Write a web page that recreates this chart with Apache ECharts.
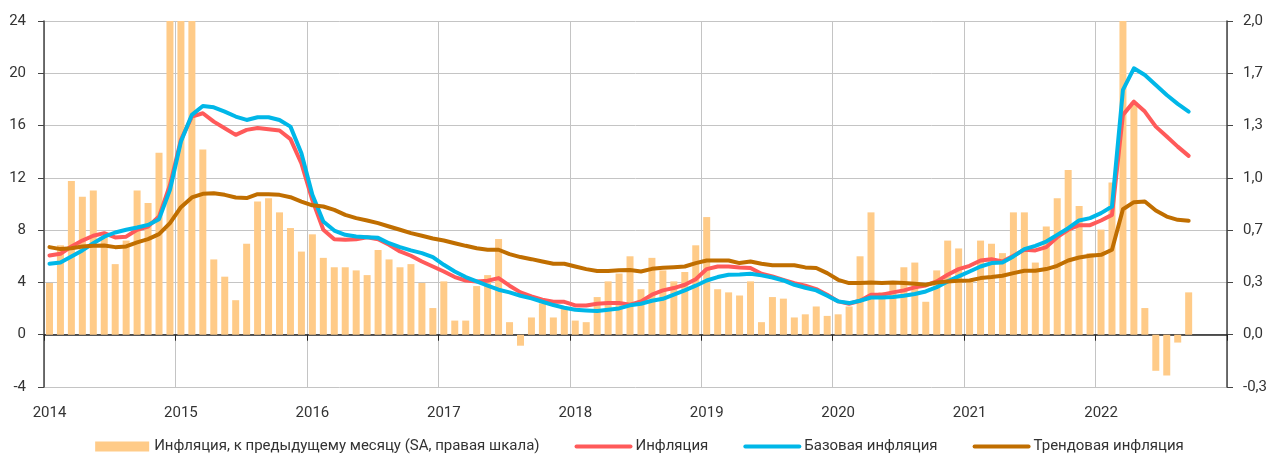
<!DOCTYPE html>
<html>
<head>
<meta charset="utf-8">
<script src="https://cdn.jsdelivr.net/npm/echarts@6/dist/echarts.min.js"></script>
<style>
    html, body { margin: 0; padding: 0; background: #fff; }
    #chart { width: 1279px; height: 456px; }
</style>
</head>
<body>
<div id="chart"></div>
<script>
// годовые подписи оси X (по январю каждого года)
var years = ['2014', '2015', '2016', '2017', '2018', '2019', '2020', '2021', '2022'];

// инфляция к предыдущему месяцу, SA, % (правая шкала), янв.2014 - сен.2022
var momSA = [
    0.33, 0.57, 0.98, 0.88, 0.92, 0.62, 0.45, 0.60, 0.92, 0.84, 1.16, 2.60,
    3.20, 2.20, 1.18, 0.48, 0.37, 0.22, 0.58, 0.85, 0.87, 0.78, 0.68, 0.53,
    0.64, 0.49, 0.43, 0.43, 0.41, 0.38, 0.54, 0.48, 0.43, 0.45, 0.33, 0.17,
    0.34, 0.09, 0.09, 0.31, 0.38, 0.61, 0.08, -0.07, 0.11, 0.20, 0.11, 0.17,
    0.09, 0.08, 0.24, 0.34, 0.39, 0.50, 0.29, 0.49, 0.41, 0.34, 0.40, 0.57,
    0.75, 0.29, 0.27, 0.25, 0.34, 0.08, 0.24, 0.23, 0.11, 0.13, 0.18, 0.12,
    0.13, 0.18, 0.50, 0.78, 0.27, 0.34, 0.43, 0.46, 0.21, 0.41, 0.60, 0.55,
    0.34, 0.60, 0.58, 0.52, 0.78, 0.78, 0.46, 0.69, 0.87, 1.05, 0.82, 0.52,
    0.67, 0.97, 7.30, 1.48, 0.17, -0.23, -0.26, -0.05, 0.27
];

// инфляция, % г/г
var inflation = [
    6.06, 6.19, 6.75, 7.20, 7.57, 7.77, 7.44, 7.50, 8.03, 8.28, 9.04, 11.46,
    14.90, 16.69, 16.94, 16.30, 15.80, 15.29, 15.67, 15.82, 15.72, 15.62, 14.96, 13.10,
    10.30, 8.03, 7.31, 7.26, 7.31, 7.46, 7.31, 6.88, 6.37, 6.04, 5.60, 5.22,
    4.84, 4.41, 4.15, 4.08, 4.13, 4.33, 3.75, 3.24, 2.93, 2.68, 2.52, 2.52,
    2.24, 2.24, 2.37, 2.42, 2.42, 2.30, 2.55, 3.06, 3.39, 3.57, 3.82, 4.25,
    5.02, 5.22, 5.22, 5.15, 5.10, 4.66, 4.46, 4.20, 3.95, 3.75, 3.49, 3.06,
    2.55, 2.37, 2.60, 3.06, 3.06, 3.24, 3.39, 3.62, 3.77, 4.08, 4.59, 5.02,
    5.27, 5.68, 5.78, 5.60, 6.04, 6.50, 6.45, 6.70, 7.46, 8.03, 8.38, 8.38,
    8.74, 9.17, 16.82, 17.83, 17.07, 15.92, 15.16, 14.39, 13.68
];

// базовая инфляция, % г/г
var coreInflation = [
    5.43, 5.53, 5.99, 6.45, 7.00, 7.50, 7.82, 8.03, 8.20, 8.40, 8.84, 11.08,
    14.78, 16.82, 17.50, 17.40, 17.07, 16.69, 16.43, 16.64, 16.64, 16.43, 15.92, 13.89,
    10.70, 8.66, 7.97, 7.64, 7.52, 7.46, 7.41, 7.00, 6.70, 6.45, 6.24, 5.94,
    5.35, 4.84, 4.41, 4.08, 3.75, 3.44, 3.24, 2.98, 2.78, 2.52, 2.27, 2.06,
    1.91, 1.86, 1.81, 1.91, 2.01, 2.25, 2.37, 2.60, 2.75, 3.06, 3.39, 3.75,
    4.15, 4.41, 4.59, 4.61, 4.66, 4.54, 4.38, 4.15, 3.82, 3.59, 3.39, 2.98,
    2.55, 2.42, 2.60, 2.85, 2.85, 2.88, 2.98, 3.11, 3.31, 3.64, 4.08, 4.46,
    4.84, 5.22, 5.48, 5.53, 5.99, 6.55, 6.80, 7.13, 7.64, 8.15, 8.74, 8.92,
    9.30, 9.81, 18.73, 20.38, 19.87, 19.11, 18.34, 17.66, 17.07
];

// трендовая инфляция, % г/г
var trendInflation = [
    6.70, 6.55, 6.62, 6.75, 6.80, 6.83, 6.70, 6.75, 7.06, 7.31, 7.69, 8.54,
    9.76, 10.50, 10.78, 10.83, 10.70, 10.50, 10.45, 10.75, 10.75, 10.70, 10.52, 10.19,
    9.90, 9.81, 9.55, 9.17, 8.92, 8.74, 8.54, 8.28, 8.03, 7.77, 7.57, 7.36,
    7.21, 7.00, 6.80, 6.62, 6.50, 6.50, 6.17, 5.94, 5.78, 5.60, 5.43, 5.43,
    5.22, 5.02, 4.87, 4.87, 4.93, 4.95, 4.84, 5.04, 5.12, 5.17, 5.22, 5.48,
    5.68, 5.68, 5.68, 5.48, 5.60, 5.43, 5.32, 5.32, 5.32, 5.15, 5.10, 4.71,
    4.20, 3.95, 3.95, 4.00, 3.95, 4.00, 3.95, 3.90, 3.82, 4.00, 4.08, 4.13,
    4.15, 4.33, 4.41, 4.51, 4.71, 4.89, 4.89, 5.02, 5.27, 5.68, 5.91, 6.04,
    6.11, 6.50, 9.60, 10.14, 10.19, 9.50, 9.04, 8.79, 8.71
];

var names = ['Инфляция, к предыдущему месяцу (SA, правая шкала)', 'Инфляция', 'Базовая инфляция', 'Трендовая инфляция'];

// месяц i рисуется в середине своего интервала на оси (в месяцах от янв.2014)
function toPoints(arr) {
    var res = [];
    for (var i = 0; i < arr.length; i++) {
        res.push([i + 0.5, arr[i]]);
    }
    return res;
}

var font = 'Roboto, "Noto Sans", sans-serif';
var gridColor = '#c4c4c4';
var axisColor = '#444';

// линия без маркеров (и в легенде тоже)
function lineSeries(name, data, color) {
    return {
        name: name,
        type: 'line',
        xAxisIndex: 0,
        yAxisIndex: 0,
        symbol: 'none',
        lineStyle: { color: color, width: 4, cap: 'round', join: 'round' },
        itemStyle: { color: color, opacity: 0 },
        data: toPoints(data)
    };
}

var chart = echarts.init(document.getElementById('chart'));
var option = {
    animation: false,
    textStyle: { fontFamily: font },
    grid: { left: 44, right: 52, top: 21, bottom: 69 },
    legend: {
        top: 434,
        left: 'center',
        itemWidth: 54,
        itemHeight: 10,
        itemGap: 35,
        textStyle: { fontSize: 15, color: '#333', fontFamily: font },
        data: [
            { name: names[0], icon: 'rect' },
            { name: names[1], lineStyle: { width: 4, cap: 'round' } },
            { name: names[2], lineStyle: { width: 4, cap: 'round' } },
            { name: names[3], lineStyle: { width: 4, cap: 'round' } }
        ]
    },
    xAxis: [{
        type: 'value',
        min: 0,
        max: 108,
        interval: 12,
        position: 'bottom',
        axisLine: { show: false, onZero: false },
        axisTick: { show: false },
        splitLine: { show: true, lineStyle: { color: gridColor, width: 1 } },
        axisLabel: {
            fontSize: 15,
            color: '#333',
            margin: 19,
            padding: [0, 0, 0, 11],
            formatter: function (v) {
                var idx = Math.round(v / 12);
                return idx < years.length ? years[idx] : '';
            }
        }
    }, {
        type: 'value',
        min: 0,
        max: 108,
        interval: 12,
        position: 'bottom',
        axisLine: { show: true, onZero: true, onZeroAxisIndex: 0, lineStyle: { color: '#222', width: 1.5 } },
        axisTick: { show: true, length: 6, lineStyle: { color: '#222' } },
        axisLabel: { show: false },
        splitLine: { show: false }
    }],
    yAxis: [{
        type: 'value',
        min: -4,
        max: 24,
        interval: 4,
        position: 'left',
        axisLine: { show: true, onZero: false, lineStyle: { color: axisColor, width: 1.5 } },
        axisTick: { show: true, length: 6, lineStyle: { color: axisColor } },
        splitLine: { show: true, lineStyle: { color: gridColor, width: 1 } },
        axisLabel: { fontSize: 15, color: '#333', margin: 18 }
    }, {
        type: 'value',
        min: -1 / 3,
        max: 2,
        interval: 1 / 3,
        position: 'right',
        axisLine: { show: true, onZero: false, lineStyle: { color: axisColor, width: 1.5 } },
        axisTick: { show: true, length: 6, lineStyle: { color: axisColor } },
        splitLine: { show: false },
        axisLabel: {
            fontSize: 15,
            color: '#333',
            margin: 16,
            formatter: function (v) {
                if (Math.abs(v) < 1e-9) return '0,0';
                return v.toFixed(1).replace('.', ',');
            }
        }
    }],
    series: [{
        name: names[0],
        type: 'bar',
        xAxisIndex: 0,
        yAxisIndex: 1,
        barWidth: 7,
        clip: true,
        itemStyle: { color: '#ffcb88' },
        data: toPoints(momSA)
    },
        lineSeries(names[1], inflation, '#ff5a5a'),
        lineSeries(names[2], coreInflation, '#00b7e8'),
        lineSeries(names[3], trendInflation, '#c06e00')
    ]
};
chart.setOption(option);
</script>
</body>
</html>
